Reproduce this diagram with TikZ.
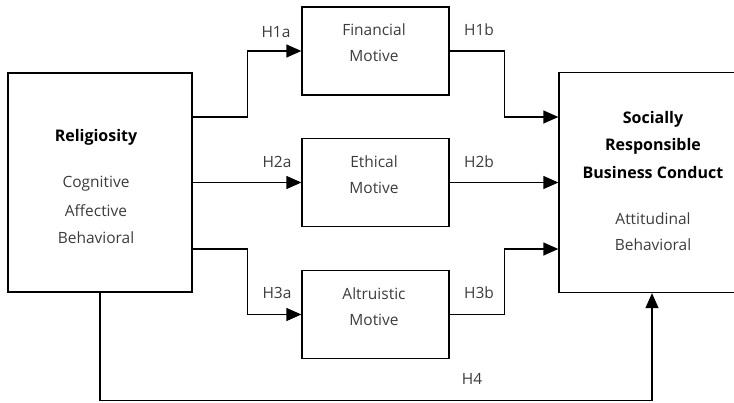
\documentclass[tikz,border=0pt]{standalone}
\usepackage{fontspec}
\setmainfont{Open Sans}
\usetikzlibrary{arrows.meta}
\definecolor{txtgray}{HTML}{3C3C3C}
\begin{document}
\begin{tikzpicture}[x=1pt,y=-1pt,
  box/.style={draw=black,line width=1.3pt,rectangle,inner sep=0pt},
  lbl/.style={font=\fontsize{15.5}{18}\selectfont,text=txtgray,inner sep=0pt},
  head/.style={font=\fontsize{16}{19}\selectfont\bfseries,text=black,inner sep=0pt},
  conn/.style={line width=1.3pt,-{Triangle[length=15pt,width=13pt]}},
  plain/.style={line width=1.3pt}]
\useasboundingbox (0,0) rectangle (734,402);
\clip (0,0) rectangle (734,402);

% boxes
\node[box,minimum width=184pt,minimum height=219pt] (rel) at (100,182.5) {};
\node[box,minimum width=147pt,minimum height=88pt] (fin) at (375.5,51) {};
\node[box,minimum width=147pt,minimum height=88pt] (eth) at (375.5,182.5) {};
\node[box,minimum width=147pt,minimum height=88pt] (alt) at (375.5,314.5) {};
\node[box,minimum width=186pt,minimum height=220pt] (srbc) at (652,182.5) {};

% box texts
\node[head] (relT) at (96,137) {Religiosity};
\node[lbl] (relA) at (96,184) {Cognitive};
\node[lbl] (relB) at (96,211) {Affective};
\node[lbl] (relC) at (96,238) {Behavioral};

\node[lbl] (finA) at (374,30) {Financial};
\node[lbl] (finB) at (374,56) {Motive};
\node[lbl] (ethA) at (374,162) {Ethical};
\node[lbl] (ethB) at (374,188) {Motive};
\node[lbl] (altA) at (374,294) {Altruistic};
\node[lbl] (altB) at (374,320) {Motive};

\node[head] (srA) at (653,119) {Socially};
\node[head] (srB) at (653,146) {Responsible};
\node[head] (srC) at (653,172) {Business Conduct};
\node[lbl] (srD) at (653,219) {Attitudinal};
\node[lbl] (srE) at (653,245) {Behavioral};

% connectors
\draw[conn] ([yshift=65.5pt]rel.east) -- ++(55,0) |- (fin.west);
\draw[conn] (rel.east) -- (eth.west);
\draw[conn] ([yshift=-66.5pt]rel.east) -- ++(55,0) |- (alt.west);
\draw[conn] (fin.east) -- ++(55,0) |- ([yshift=65.5pt]srbc.west);
\draw[conn] (eth.east) -- (srbc.west);
\draw[conn] (alt.east) -- ++(55,0) |- ([yshift=-66.5pt]srbc.west);
\draw[conn] (rel.south) -- ++(0,108) -| (srbc.south);

% path labels
\node[lbl] (h1a) at (276,32) {H1a};
\node[lbl] (h1b) at (479,30) {H1b};
\node[lbl] (h2a) at (277,162) {H2a};
\node[lbl] (h2b) at (479,162) {H2b};
\node[lbl] (h3a) at (277,293) {H3a};
\node[lbl] (h3b) at (479,293) {H3b};
\node[lbl] (h4) at (472,379) {H4};
\end{tikzpicture}
\end{document}
